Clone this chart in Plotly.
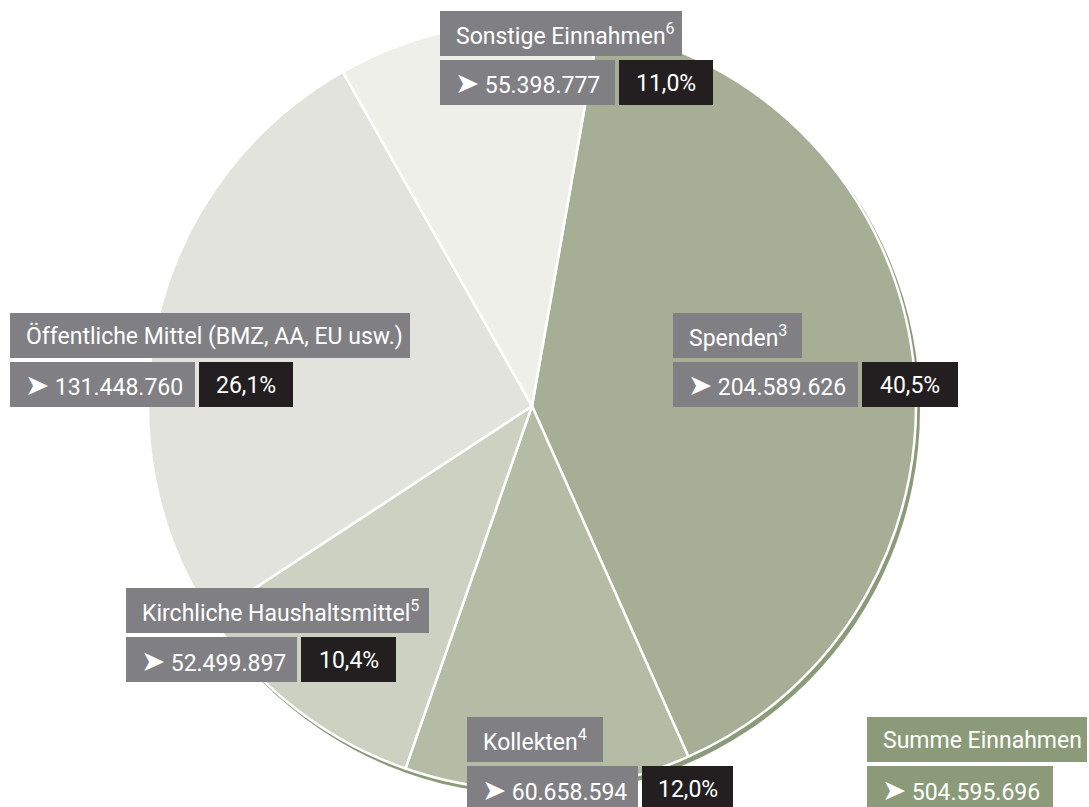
import plotly.graph_objects as go

# ---- data ----
categories = ["Spenden", "Kollekten", "Kirchliche Haushaltsmittel",
              "Öffentliche Mittel (BMZ, AA, EU usw.)", "Sonstige Einnahmen"]
footnotes = ["3", "4", "5", "", "6"]
values = [204589626, 60658594, 52499897, 131448760, 55398777]
percents = [40.5, 12.0, 10.4, 26.1, 11.0]
total_label = "Summe Einnahmen"
total_value = 504595696

# ---- style ----
slice_colors = ["#a6af96", "#b4bca5", "#cdd1c2", "#e2e3dc", "#efefea"]
GRAY = "#808084"
DARK = "#231f20"
GREEN = "#8b9b79"
FONT = "Roboto, Liberation Sans Narrow, sans-serif"
FS = 23
ARROW = '<span style="font-size:29px">➤</span> '

W, H = 1089, 807
CX, CY, R = 532, 406, 384

# label box layout: (x, y, title width, value width, percent width) in pixels
box_layout = [
    (673, 313, 129, 185, 96),
    (467, 717, 136, 171, 91),
    (126, 588, 303, 171, 95),
    (10, 313, 400, 185, 94),
    (440, 11, 242, 175, 94),
]
total_box = (867, 717, 220, 186)
ROW_H, GAP = 45, 4


def px(x):
    return x / W


def py(y):
    return 1 - y / H


def fmt_int(v):
    return f"{v:,}".replace(",", ".")


def fmt_pct(p):
    return f"{p:.1f}".replace(".", ",") + "%"


fig = go.Figure()
fig.add_trace(go.Pie(
    labels=categories, values=values, sort=False, direction="clockwise",
    rotation=10, textinfo="none", hoverinfo="label+value+percent",
    marker=dict(colors=slice_colors, line=dict(color="white", width=2.5)),
    domain=dict(x=[px(CX - R), px(CX + R)], y=[py(CY + R), py(CY - R)]),
    showlegend=False,
))

shapes = []
annotations = []

# drop-shadow ring behind the pie
shapes.append(dict(type="circle", xref="paper", yref="paper", layer="below",
                   x0=px(CX + 3 - R - 1), x1=px(CX + 3 + R + 1),
                   y0=py(CY + 4 + R + 1), y1=py(CY + 4 - R - 1),
                   fillcolor=GREEN, line=dict(width=0)))


def rect(x0, y0, w, h, color):
    shapes.append(dict(type="rect", xref="paper", yref="paper", layer="above",
                       x0=px(x0), x1=px(x0 + w), y0=py(y0 + h), y1=py(y0),
                       fillcolor=color, line=dict(width=0)))


def text(x, y, s, anchor="left"):
    annotations.append(dict(x=px(x), y=py(y), xref="paper", yref="paper",
                            text=s, showarrow=False, xanchor=anchor,
                            yanchor="middle",
                            font=dict(family=FONT, size=FS, color="white")))


for cat, fn, v, p, (bx, by, tw, vw, pw) in zip(categories, footnotes, values,
                                              percents, box_layout):
    rect(bx, by, tw, ROW_H, GRAY)
    title = cat + (f"<sup>{fn}</sup>" if fn else "")
    text(bx + 14, by + ROW_H / 2 + 1, title)
    y2 = by + ROW_H + GAP
    rect(bx, y2, vw, ROW_H, GRAY)
    text(bx + 13, y2 + ROW_H / 2 + 1, ARROW + fmt_int(v))
    rect(bx + vw + GAP, y2, pw, ROW_H, DARK)
    text(bx + vw + GAP + pw / 2, y2 + ROW_H / 2 + 1, fmt_pct(p), anchor="center")

tx, ty, ttw, tvw = total_box
rect(tx, ty, ttw, ROW_H, GREEN)
text(tx + 14, ty + ROW_H / 2 + 1, total_label)
rect(tx, ty + ROW_H + GAP, tvw, ROW_H, GREEN)
text(tx + 13, ty + ROW_H + GAP + ROW_H / 2 + 1, ARROW + fmt_int(total_value))

fig.update_layout(width=W, height=H, margin=dict(l=0, r=0, t=0, b=0),
                  paper_bgcolor="white", plot_bgcolor="white",
                  shapes=shapes, annotations=annotations)

fig.write_html("out.html")
